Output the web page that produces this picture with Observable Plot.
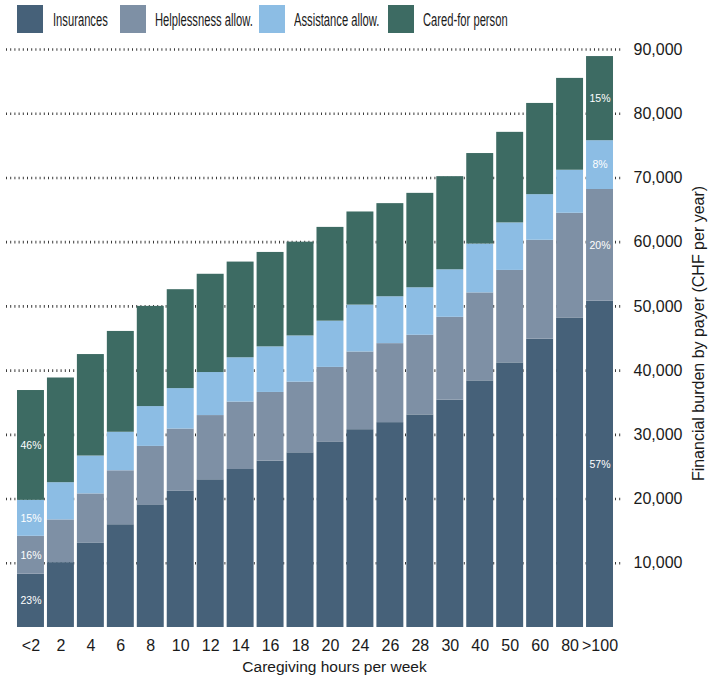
<!DOCTYPE html>
<html>
<head>
<meta charset="utf-8">
<script src="https://cdn.jsdelivr.net/npm/d3@7"></script>
<script src="https://cdn.jsdelivr.net/npm/@observablehq/plot@0.6"></script>
<style>
  html, body { margin: 0; padding: 0; background: #fff; }
  body { width: 709px; height: 678px; overflow: hidden; font-family: "Liberation Sans", Arial, Helvetica, sans-serif; color: #1a1a1a; }
  #legend { position: relative; height: 38px; width: 709px; }
  .sw { position: absolute; top: 5px; width: 26px; height: 28px; }
  .lt { position: absolute; top: 10px; font-size: 17.5px; line-height: 20px; white-space: nowrap; transform: scaleX(0.64); transform-origin: left center; }
  svg { display: block; }
</style>
</head>
<body>
<div id="legend"></div>
<div id="chart"></div>
<script>
// Categories (caregiving hours per week)
const categories = ["<2","2","4","6","8","10","12","14","16","18","20","24","26","28","30","40","50","60","80",">100"];
// Series (payers), bottom to top
const seriesNames = ["Insurances","Helplessness allow.","Assistance allow.","Cared-for person"];
const seriesColors = ["#466179","#7e90a5","#8cbde4","#3d6b63"];
// Values (CHF per year) per category
const insurances = [8300,10100,13100,16000,19100,21200,23000,24600,25900,27200,28900,30800,31900,33100,35400,38400,41200,44900,48200,50800];
const helplessness = [5900,6650,7700,8400,9100,9700,10000,10500,10700,11000,11600,12100,12300,12400,12900,13700,14400,15400,16300,17400];
const assistance = [5600,5800,5900,6000,6200,6300,6700,6900,7100,7200,7200,7300,7300,7400,7400,7600,7400,7100,6700,7600];
const caredFor = [17100,16300,15800,15700,15600,15400,15300,14900,14700,14600,14600,14500,14500,14700,14500,14100,14100,14200,14300,13100];
// Share labels shown inside the first and last bars
const labelFirst = ["23%","16%","15%","46%"];
const labelLast = ["57%","20%","8%","15%"];
// Y ticks
const yTicks = [10000,20000,30000,40000,50000,60000,70000,80000,90000];

const seriesValues = [insurances, helplessness, assistance, caredFor];
const data = [];
categories.forEach((c, i) => {
  seriesNames.forEach((s, j) => {
    let label = "";
    if (i === 0) label = labelFirst[j];
    if (i === categories.length - 1) label = labelLast[j];
    data.push({cat: c, series: s, value: seriesValues[j][i], label});
  });
});

// Legend
const legend = document.getElementById("legend");
const swX = [17, 120, 259, 388];
const txX = [53, 155, 294, 423];
seriesNames.forEach((s, j) => {
  const sw = document.createElement("div");
  sw.className = "sw"; sw.style.left = swX[j] + "px"; sw.style.background = seriesColors[j];
  legend.appendChild(sw);
  const t = document.createElement("div");
  t.className = "lt"; t.style.left = txX[j] + "px"; t.textContent = s;
  legend.appendChild(t);
});

const W = 709, H = 640;
const chart = Plot.plot({
  width: W,
  height: H,
  marginLeft: 6,
  marginRight: 87,
  marginTop: 11,
  marginBottom: 51,
  style: {fontFamily: "'Liberation Sans', Arial, Helvetica, sans-serif", fontSize: "16px", color: "#1a1a1a", background: "#fff"},
  x: {type: "band", domain: categories, range: [14, 616], padding: 0.1, round: false, label: null},
  y: {domain: [0, 90000], label: null},
  color: {domain: seriesNames, range: seriesColors},
  marks: [
    Plot.ruleY(yTicks, {stroke: "#3a3a3a", strokeWidth: 2.6, strokeDasharray: "1 3.2"}),
    Plot.barY(data, Plot.stackY({x: "cat", y: "value", z: "series", fill: "series"})),
    Plot.text(data, Plot.stackY({x: "cat", y: "value", z: "series", text: "label", fill: "white", fontSize: 10.5, fontWeight: 500})),
    Plot.axisX({tickSize: 0, tickPadding: 12, fontSize: 16, label: null}),
    Plot.axisY({anchor: "right", ticks: yTicks, tickSize: 0, tickPadding: 11, tickFormat: d3.format(","), fontSize: 16, label: null}),
    Plot.text(["Caregiving hours per week"], {frameAnchor: "bottom", dx: 20, dy: 40, fontSize: 15.5, lineAnchor: "middle", textAnchor: "middle"}),
    Plot.text(["Financial burden by payer (CHF per year)"], {frameAnchor: "right", dx: 76, dy: -5, rotate: -90, fontSize: 16, lineAnchor: "middle", textAnchor: "middle"})
  ]
});
document.getElementById("chart").appendChild(chart);
</script>
</body>
</html>
